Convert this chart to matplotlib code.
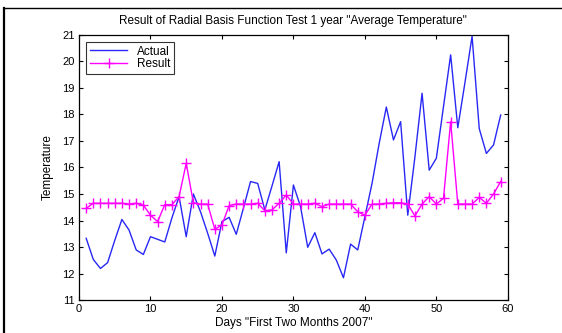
import numpy as np
import matplotlib.pyplot as plt
from matplotlib.lines import Line2D

plt.rcParams['font.family'] = ['Liberation Sans', 'DejaVu Sans']

# days 1..59
days = list(range(1, 60))

actual = [13.33, 12.53, 12.19, 12.41, 13.25, 14.04, 13.64, 12.89, 12.72, 13.39,
          13.29, 13.19, 14.10, 14.90, 13.39, 15.00, 14.33, 13.52, 12.66, 13.96,
          14.12, 13.48, 14.46, 15.47, 15.40, 14.40, 15.30, 16.22, 12.78, 15.34,
          14.52, 12.99, 13.54, 12.74, 12.92, 12.51, 11.84, 13.11, 12.89, 14.14,
          15.40, 16.91, 18.28, 17.04, 17.73, 14.20, 16.40, 18.80, 15.90, 16.35,
          18.30, 20.25, 17.50, 19.20, 20.95, 17.47, 16.53, 16.85, 17.98]

result = [14.46, 14.65, 14.65, 14.65, 14.65, 14.65, 14.62, 14.65, 14.58, 14.20,
          13.96, 14.60, 14.60, 14.90, 16.16, 14.67, 14.62, 14.62, 13.67, 13.83,
          14.56, 14.62, 14.62, 14.62, 14.65, 14.37, 14.40, 14.65, 14.96, 14.62,
          14.62, 14.62, 14.65, 14.52, 14.62, 14.62, 14.62, 14.62, 14.33, 14.20,
          14.62, 14.62, 14.65, 14.67, 14.67, 14.62, 14.17, 14.62, 14.90, 14.62,
          14.84, 17.73, 14.62, 14.62, 14.62, 14.87, 14.65, 15.00, 15.47]

fig = plt.figure(figsize=(5.62, 3.33), dpi=100)
ax = fig.add_axes([0.1406, 0.099, 0.763, 0.796])

ax.plot(days, actual, color='#2828f5', lw=1.0, label='Actual')
ax.plot(days, result, color='#ff00ff', lw=1.0, marker='+', ms=6.5, mew=1.0,
        label='Result')

ax.set_xlim(0, 60)
ax.set_ylim(11, 21)
ax.set_xticks(range(0, 61, 10))
ax.set_yticks(range(11, 22))
ax.tick_params(direction='in', top=True, right=True, labelsize=8, length=3,
               width=0.8, pad=3)
for s in ax.spines.values():
    s.set_linewidth(0.9)

ax.set_title('Result of Radial Basis Function Test 1 year "Average Temperature"',
             fontsize=8.5, pad=8)
ax.set_xlabel('Days "First Two Months 2007"', fontsize=8.5, labelpad=2)
ax.set_ylabel('Temperature', fontsize=8.5, labelpad=6)

leg = ax.legend(loc='upper left', fontsize=8.5, frameon=True, fancybox=False,
                borderpad=0.3, handlelength=3.2, labelspacing=0.05,
                borderaxespad=0.6, handletextpad=0.8)
leg.get_frame().set_edgecolor('black')
leg.get_frame().set_linewidth(0.8)

# outer frame lines (left and top)
fig.add_artist(Line2D([0.008, 0.008], [0.0, 0.976], transform=fig.transFigure,
                      color='black', lw=1.6))
fig.add_artist(Line2D([0.008, 1.0], [0.976, 0.976], transform=fig.transFigure,
                      color='black', lw=1.0))

fig.savefig('out.png', dpi=100)
